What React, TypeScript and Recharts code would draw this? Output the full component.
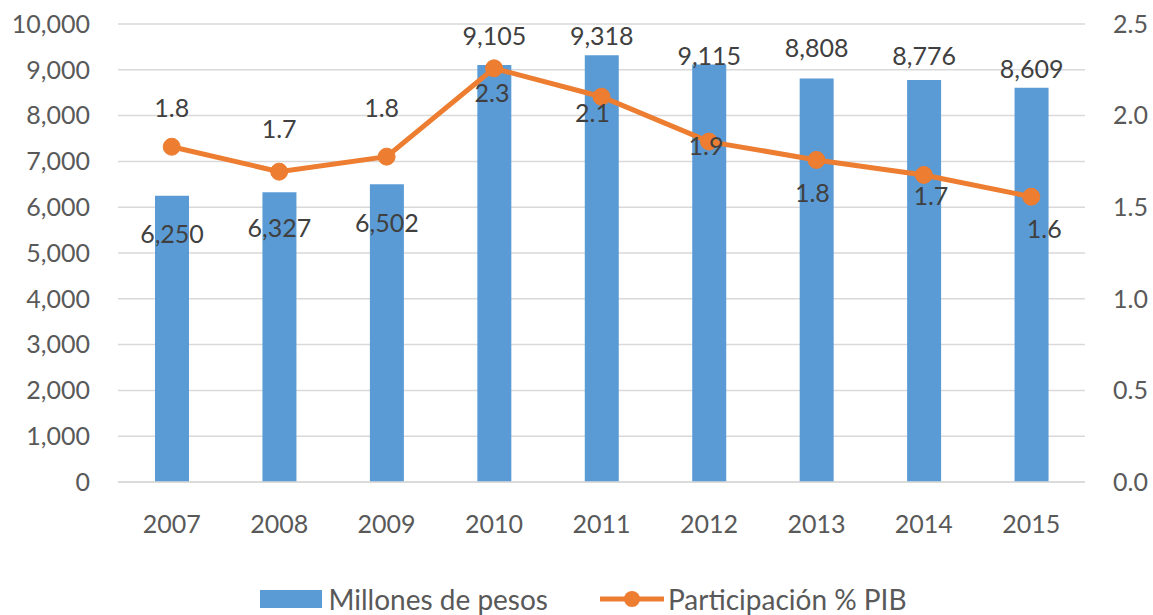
import {
  ComposedChart, Bar, Line, XAxis, YAxis, CartesianGrid, Legend, LabelList,
} from 'recharts';

const years = ['2007', '2008', '2009', '2010', '2011', '2012', '2013', '2014', '2015'];
const millones = [6250, 6327, 6502, 9105, 9318, 9115, 8808, 8776, 8609];
const participacion = [1.83, 1.694, 1.776, 2.258, 2.103, 1.858, 1.758, 1.676, 1.557];
const leftTicks = [0, 1000, 2000, 3000, 4000, 5000, 6000, 7000, 8000, 9000, 10000];
const rightTicks = [0, 0.5, 1.0, 1.5, 2.0, 2.5];

const data = years.map((year, i) => ({
  year,
  millones: millones[i],
  participacion: participacion[i],
}));

const BAR_COLOR = '#5B9BD5';
const LINE_COLOR = '#ED7D31';
const GRID = '#D9D9D9';
const AXIS_TEXT = '#595959';
const LABEL_TEXT = '#404040';
const FONT = 'Lato, "Open Sans", sans-serif';
const FS = 25;

// Excel nudged the labels around to dodge the line; offsets in px from the mark.
const barLabelDy = [37, 35, 38, -30, -20, -10, -32, -25, -20];
const lineLabelDx = [0, 0, -5, -2, -9, -3, -4, 7, 13];
const lineLabelDy = [-40, -44, -50, 24, 15, 3, 32, 20, 31];

function BarValue(props: any) {
  const { x, y, width, value, index } = props;
  return (
    <text
      x={x + width / 2}
      y={y + barLabelDy[index]}
      textAnchor="middle"
      dominantBaseline="central"
      fill={LABEL_TEXT}
      fontSize={FS}
      fontFamily={FONT}
    >
      {Number(value).toLocaleString('en-US')}
    </text>
  );
}

function LineValue(props: any) {
  const { x, y, value, index } = props;
  return (
    <text
      x={x + lineLabelDx[index]}
      y={y + lineLabelDy[index]}
      textAnchor="middle"
      dominantBaseline="central"
      fill={LABEL_TEXT}
      fontSize={FS}
      fontFamily={FONT}
    >
      {Number(value).toFixed(1)}
    </text>
  );
}

function ChartLegend() {
  return (
    <div
      style={{
        height: 32,
        display: 'flex',
        justifyContent: 'center',
        alignItems: 'center',
        fontFamily: FONT,
        fontSize: 28,
        color: AXIS_TEXT,
        paddingLeft: 14,
      }}
    >
      <span style={{ display: 'inline-block', width: 62, height: 18, background: BAR_COLOR, marginRight: 6 }} />
      <span>Millones de pesos</span>
      <svg width={64} height={20} style={{ marginLeft: 52, marginRight: 4 }}>
        <line x1={0} y1={10} x2={64} y2={10} stroke={LINE_COLOR} strokeWidth={5} />
        <circle cx={32} cy={10} r={8} fill={LINE_COLOR} />
      </svg>
      <span>Participación % PIB</span>
    </div>
  );
}

export default function App() {
  return (
    <div style={{ width: 1153, height: 615, background: '#fff' }}>
      <style>{'body{margin:0}'}</style>
      <ComposedChart
        width={1153}
        height={615}
        data={data}
        margin={{ top: 24, right: 0, bottom: 0, left: 0 }}
        barCategoryGap="34%"
      >
        <CartesianGrid vertical={false} stroke={GRID} strokeWidth={1.5} yAxisId="left" />
        <XAxis
          dataKey="year"
          height={101}
          tickLine={false}
          tickSize={0}
          tickMargin={33}
          axisLine={{ stroke: GRID, strokeWidth: 1.5 }}
          tick={{ fill: AXIS_TEXT, fontSize: FS, fontFamily: FONT }}
        />
        <YAxis
          yAxisId="left"
          orientation="left"
          width={118}
          domain={[0, 10000]}
          ticks={leftTicks}
          tickFormatter={(v: number) => v.toLocaleString('en-US')}
          axisLine={false}
          tickLine={false}
          tickSize={0}
          tickMargin={28}
          interval={0}
          tick={{ fill: AXIS_TEXT, fontSize: FS, fontFamily: FONT }}
        />
        <YAxis
          yAxisId="right"
          orientation="right"
          width={68}
          domain={[0, 2.5]}
          ticks={rightTicks}
          tickFormatter={(v: number) => v.toFixed(1)}
          axisLine={false}
          tickLine={false}
          tickSize={0}
          tickMargin={28}
          interval={0}
          tick={{ fill: AXIS_TEXT, fontSize: FS, fontFamily: FONT, textAnchor: 'start' }}
        />
        <Legend verticalAlign="bottom" content={<ChartLegend />} />
        <Bar
          yAxisId="left"
          dataKey="millones"
          name="Millones de pesos"
          fill={BAR_COLOR}
          barSize={34}
          isAnimationActive={false}
        >
          <LabelList dataKey="millones" content={<BarValue />} />
        </Bar>
        <Line
          yAxisId="right"
          dataKey="participacion"
          name="Participación % PIB"
          type="linear"
          stroke={LINE_COLOR}
          strokeWidth={5}
          dot={{ r: 8.5, fill: LINE_COLOR, stroke: LINE_COLOR, strokeWidth: 1 }}
          isAnimationActive={false}
        >
          <LabelList dataKey="participacion" content={<LineValue />} />
        </Line>
      </ComposedChart>
    </div>
  );
}
